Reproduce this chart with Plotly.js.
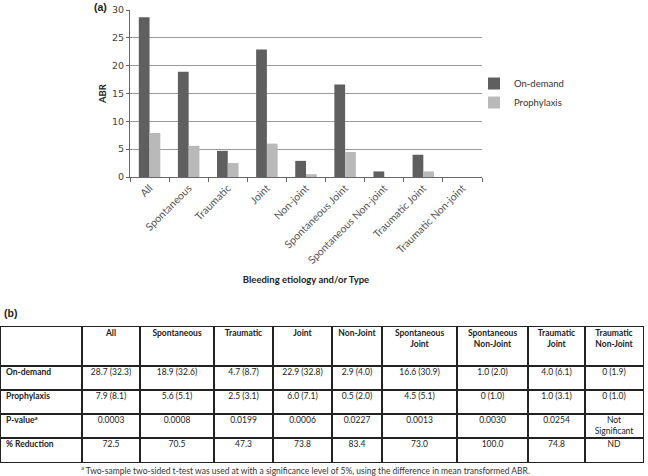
<!DOCTYPE html>
<html>
<head>
<meta charset="utf-8">
<script src="https://cdn.plot.ly/plotly-3.0.1.min.js"></script>
<style>html,body{margin:0;padding:0;background:#fff;}#chart{width:648px;height:476px;}</style>
</head>
<body>
<div id="chart"></div>
<script>
// ---- chart data ----
var categories = ['All', 'Spontaneous', 'Traumatic', 'Joint', 'Non-joint', 'Spontaneous Joint', 'Spontaneous Non-joint', 'Traumatic Joint', 'Traumatic Non-joint'];
var onDemand = [28.7, 18.9, 4.7, 22.9, 2.9, 16.6, 1.0, 4.0, 0];
var prophylaxis = [7.9, 5.6, 2.5, 6.0, 0.5, 4.5, 0, 1.0, 0];
var yTicks = [0, 5, 10, 15, 20, 25, 30];

// ---- table data ----
var tableHeaders = ['', 'All', 'Spontaneous', 'Traumatic', 'Joint', 'Non-Joint', 'Spontaneous<br>Joint', 'Spontaneous<br>Non-Joint', 'Traumatic<br>Joint', 'Traumatic<br>Non-Joint'];
var rowLabels = ['On-demand', 'Prophylaxis', 'P-value<sup>a</sup>', '% Reduction'];
var onDemandCells = ['28.7 (32.3)', '18.9 (32.6)', '4.7 (8.7)', '22.9 (32.8)', '2.9 (4.0)', '16.6 (30.9)', '1.0 (2.0)', '4.0 (6.1)', '0 (1.9)'];
var prophylaxisCells = ['7.9 (8.1)', '5.6 (5.1)', '2.5 (3.1)', '6.0 (7.1)', '0.5 (2.0)', '4.5 (5.1)', '0 (1.0)', '1.0 (3.1)', '0 (1.0)'];
var pValueCells = ['0.0003', '0.0008', '0.0199', '0.0006', '0.0227', '0.0013', '0.0030', '0.0254', 'Not<br>Significant'];
var reductionCells = ['72.5', '70.5', '47.3', '73.8', '83.4', '73.0', '100.0', '74.8', 'ND'];
var footnote = '<sup>a</sup> Two-sample two-sided t-test was used at with a significance level of 5%, using the difference in mean transformed ABR.';

var W = 648, H = 476;
function px(x) { return x / W; }
function py(y) { return 1 - y / H; }

// table geometry (sizes in px units of the table axes)
var colWidths = [81, 58, 74, 59, 59, 50, 75, 71, 57, 58];
var rowHeights = [39, 24, 24, 24, 24];
function cumsum(a) { var out = [0]; a.forEach(function (v) { out.push(out[out.length - 1] + v); }); return out; }
var colEdges = cumsum(colWidths);
var rowEdges = cumsum(rowHeights);
var tableW = colEdges[colEdges.length - 1];
var tableH = rowEdges[rowEdges.length - 1];
var firstLine = 7, lineH = 11;
function nLines(s) { return s.split('<br>').length; }
function textY(r, s) { return rowEdges[r] + firstLine + (nLines(s) - 1) * lineH / 2; }

var dataRows = [onDemandCells, prophylaxisCells, pValueCells, reductionCells];

// label column
var labX = [], labY = [], labT = [];
rowLabels.forEach(function (s, i) {
  labX.push(colEdges[0] + 5); labY.push(textY(i + 1, s)); labT.push('<b>' + s + '</b>');
});
// header + value cells
var cX = [], cY = [], cT = [];
for (var c = 1; c < tableHeaders.length; c++) {
  var cx = (colEdges[c] + colEdges[c + 1]) / 2;
  cX.push(cx); cY.push(textY(0, tableHeaders[c])); cT.push('<b>' + tableHeaders[c] + '</b>');
  dataRows.forEach(function (row, r) {
    var s = row[c - 1];
    cX.push(cx); cY.push(textY(r + 1, s)); cT.push(s);
  });
}

var tableFont = { family: 'Lato, sans-serif', size: 8.5, color: '#222' };

var traces = [
  {
    type: 'bar', name: 'On-demand', x: categories, y: onDemand,
    marker: { color: '#5f5f5f' }, xaxis: 'x', yaxis: 'y'
  },
  {
    type: 'bar', name: 'Prophylaxis', x: categories, y: prophylaxis,
    marker: { color: '#b9b9b9' }, xaxis: 'x', yaxis: 'y'
  },
  {
    type: 'scatter', mode: 'text', x: labX, y: labY, text: labT,
    textposition: 'middle right', textfont: tableFont, cliponaxis: false,
    xaxis: 'x2', yaxis: 'y2', showlegend: false, hoverinfo: 'skip'
  },
  {
    type: 'scatter', mode: 'text', x: cX, y: cY, text: cT,
    textposition: 'middle center', textfont: tableFont, cliponaxis: false,
    xaxis: 'x2', yaxis: 'y2', showlegend: false, hoverinfo: 'skip'
  }
];

var lineCol = '#222';
var layout = {
  width: W, height: H,
  margin: { l: 0, r: 0, t: 0, b: 0 },
  paper_bgcolor: '#ffffff', plot_bgcolor: '#ffffff',
  showlegend: true,
  barmode: 'group', bargap: 0.45, bargroupgap: 0,
  font: { family: 'Lato, sans-serif', color: '#333' },
  xaxis: {
    domain: [px(130), px(482)],
    anchor: 'y',
    automargin: false,
    tickangle: -45,
    tickfont: { family: 'Lato, sans-serif', size: 10.5, color: '#555' },
    showline: true, linecolor: '#666', linewidth: 1,
    ticks: 'outside', ticklen: 4, tickcolor: '#666', tickson: 'boundaries',
    showgrid: false, fixedrange: true,
    title: { text: '<b>Bleeding etiology and/or Type</b>', font: { family: 'Lato, sans-serif', size: 9.5, color: '#222' }, standoff: 11 }
  },
  yaxis: {
    domain: [py(177), py(10)],
    anchor: 'x',
    automargin: false,
    range: [0, 30],
    tickvals: yTicks,
    tickfont: { family: 'DejaVu Sans, sans-serif', size: 9.5, color: '#444' },
    showline: true, linecolor: '#666', linewidth: 1,
    ticks: 'outside', ticklen: 3, tickcolor: '#666',
    showgrid: true, gridcolor: '#9a9a9a', gridwidth: 1,
    zeroline: false, fixedrange: true,
    title: { text: '<b>ABR</b>', font: { family: 'Lato, sans-serif', size: 9.5, color: '#222' }, standoff: 3 }
  },
  xaxis2: {
    domain: [px(1), px(643)], anchor: 'y2', range: [0, tableW],
    tickvals: colEdges.slice(1, -1), showticklabels: false, ticks: '',
    showgrid: true, gridcolor: lineCol, gridwidth: 1.3, zeroline: false,
    showline: true, mirror: true, linecolor: lineCol, linewidth: 1.3,
    fixedrange: true, automargin: false
  },
  yaxis2: {
    domain: [py(462), py(327)], anchor: 'x2', range: [tableH, 0],
    tickvals: rowEdges.slice(1, -1), showticklabels: false, ticks: '',
    showgrid: true, gridcolor: lineCol, gridwidth: 1.3, zeroline: false,
    showline: true, mirror: true, linecolor: lineCol, linewidth: 1.3,
    fixedrange: true, automargin: false
  },
  legend: {
    x: px(474), y: py(69), xanchor: 'left', yanchor: 'top',
    bgcolor: 'rgba(0,0,0,0)',
    font: { family: 'Lato, sans-serif', size: 9.5, color: '#333' },
    tracegroupgap: 4
  },
  annotations: [
    { text: '<b>(a)</b>', xref: 'paper', yref: 'paper', x: px(92), y: py(7), xanchor: 'left', yanchor: 'middle', showarrow: false, font: { family: 'Liberation Sans, Arial, sans-serif', size: 10.5, color: '#222' } },
    { text: '<b>(b)</b>', xref: 'paper', yref: 'paper', x: px(2), y: py(313), xanchor: 'left', yanchor: 'middle', showarrow: false, font: { family: 'Liberation Sans, Arial, sans-serif', size: 10.5, color: '#222' } },
    { text: footnote, xref: 'paper', yref: 'paper', x: px(305), y: py(470), xanchor: 'center', yanchor: 'middle', showarrow: false, font: { family: 'Lato, sans-serif', size: 8.5, color: '#333' } }
  ]
};

Plotly.newPlot('chart', traces, layout, { displayModeBar: false, staticPlot: true });
</script>
</body>
</html>
